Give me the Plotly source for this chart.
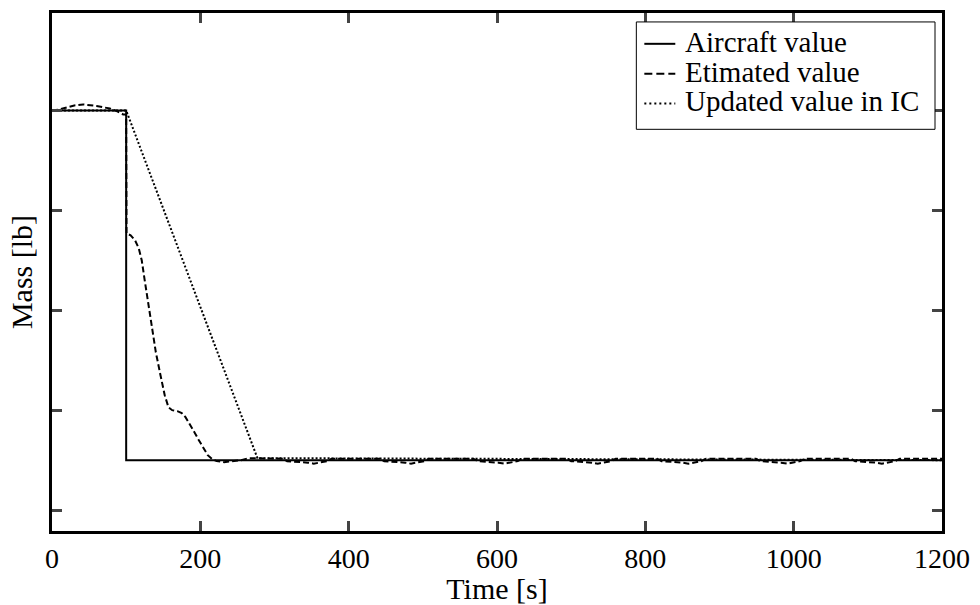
import plotly.graph_objects as go

# Aircraft value (true mass), arbitrary units (tick spacing = 1)
t_aircraft = [0, 100, 100, 1200]
m_aircraft = [4.0, 4.0, 0.5, 0.5]

# Estimated value
t_est = [0, 10, 20, 30, 42, 50, 60, 70, 78, 88, 96, 100, 100.5,
         106, 112, 117, 121, 125, 130, 135, 140, 146, 152, 157, 162, 169,
         175, 180, 186, 192, 198, 204, 210, 216, 222, 232, 245, 255, 265,
         275, 285, 300,
         311, 317, 333, 345, 353, 361, 371, 377,
         442, 448, 464, 476, 484, 492, 502, 508,
         568, 574, 590, 602, 610, 618, 628, 634,
         694, 700, 716, 728, 736, 744, 754, 760,
         816, 822, 838, 850, 858, 866, 876, 882,
         949, 955, 971, 983, 991, 999, 1009, 1015,
         1077, 1083, 1099, 1111, 1119, 1127, 1137, 1143, 1200]
m_est = [4.0, 4.01, 4.03, 4.05, 4.06, 4.055, 4.045, 4.03, 4.02, 3.99, 3.96, 3.96, 2.77,
         2.75, 2.70, 2.62, 2.50, 2.30, 2.05, 1.80, 1.58, 1.36, 1.15, 1.03, 1.00, 0.99,
         0.97, 0.93, 0.86, 0.78, 0.70, 0.62, 0.55, 0.51, 0.49, 0.48, 0.49, 0.50, 0.52,
         0.52, 0.515, 0.515,
         0.515, 0.49, 0.485, 0.475, 0.465, 0.475, 0.49, 0.515,
         0.515, 0.49, 0.485, 0.475, 0.465, 0.475, 0.49, 0.515,
         0.515, 0.49, 0.485, 0.475, 0.465, 0.475, 0.49, 0.515,
         0.515, 0.49, 0.485, 0.475, 0.465, 0.475, 0.49, 0.515,
         0.515, 0.49, 0.485, 0.475, 0.465, 0.475, 0.49, 0.515,
         0.515, 0.49, 0.485, 0.475, 0.465, 0.475, 0.49, 0.515,
         0.515, 0.49, 0.485, 0.475, 0.465, 0.475, 0.49, 0.515, 0.515]

# Updated value in IC
t_ic = [0, 100, 277, 1200]
m_ic = [4.0, 4.0, 0.52, 0.5]

tick_vals = [0, 1, 2, 3, 4]
x_ticks = [0, 200, 400, 600, 800, 1000, 1200]

series_names = ["Aircraft value", "Etimated value", "Updated value in IC"]
series_dash = ["solid", "6px,3px", "2px,2px"]
legend_dash = ["solid", "8px,4px", "2px,3px"]

FONT = "Liberation Serif, Times New Roman, serif"

fig = go.Figure()
for (tx, my), name, dash in zip([(t_aircraft, m_aircraft), (t_est, m_est), (t_ic, m_ic)],
                                series_names, series_dash):
    fig.add_trace(go.Scatter(x=tx, y=my, mode="lines", name=name, showlegend=False,
                             line=dict(color="black", width=2, dash=dash)))

# Custom legend (compact, boxed) in paper coordinates
L, R, T, B = 52, 943, 10, 531
def px(x):
    return (x - L) / (R - L)
def py(y):
    return (B - y) / (B - T)

shapes = [dict(type="rect", xref="paper", yref="paper",
               x0=px(637), x1=px(936), y0=py(127), y1=py(19),
               line=dict(color="black", width=1), fillcolor="white", layer="above")]
annotations = []
for i, (name, dash) in enumerate(zip(series_names, legend_dash)):
    yc = [41, 71, 101][i]
    shapes.append(dict(type="line", xref="paper", yref="paper",
                       x0=px(645), x1=px(676), y0=py(yc), y1=py(yc),
                       line=dict(color="black", width=2, dash=dash), layer="above"))
    annotations.append(dict(text=name, xref="paper", yref="paper", x=px(684), y=py(yc - 2),
                            xanchor="left", yanchor="middle", showarrow=False,
                            font=dict(family=FONT, size=29, color="black")))

fig.update_layout(
    width=980, height=605,
    margin=dict(l=L, r=980 - R, t=T, b=605 - B),
    paper_bgcolor="white", plot_bgcolor="white",
    font=dict(family=FONT, size=28, color="black"),
    showlegend=False,
    shapes=shapes, annotations=annotations,
    xaxis=dict(range=[0, 1200], tickvals=x_ticks, ticks="inside", ticklen=10, tickwidth=3,
               showline=True, linewidth=3, linecolor="black", mirror="ticks",
               showgrid=False, zeroline=False,
               title=dict(text="Time [s]", standoff=0, font=dict(size=30)),
               tickfont=dict(size=28)),
    yaxis=dict(range=[-0.209, 4.975], tickvals=tick_vals, ticks="inside", ticklen=10, tickwidth=3,
               showline=True, linewidth=3, linecolor="black", mirror="ticks",
               showgrid=False, zeroline=False, showticklabels=False,
               title=dict(text="Mass [lb]", standoff=8, font=dict(size=30))),
)

fig.write_html("out.html")
